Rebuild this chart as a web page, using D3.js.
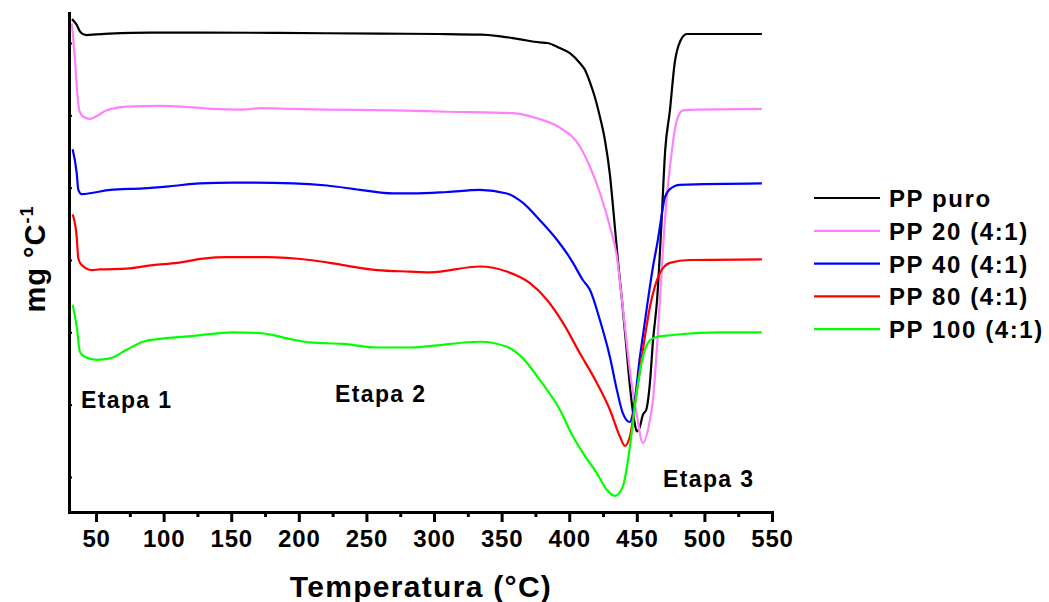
<!DOCTYPE html>
<html>
<head>
<meta charset="utf-8">
<script src="https://cdn.jsdelivr.net/npm/d3@7/dist/d3.min.js"></script>
<style>
  html, body { margin: 0; padding: 0; background: #fff; }
  svg { display: block; font-family: "Liberation Sans", Arial, Helvetica, sans-serif; font-weight: bold; }
</style>
</head>
<body>
<svg id="chart" width="1049" height="602"></svg>
<script>
// DTG curves: [temperature (°C), signal (stacked, arbitrary offset units)]
const ppPuro = [[32.2,6.33],[35.7,6.25],[38.1,6.16],[40.6,6.12],[43.1,6.11],[50,6.12],[60,6.13],[90,6.145],[130,6.145],[180,6.14],[220,6.135],[260,6.13],[303,6.125],[335,6.115],[346,6.10],[364,6.05],[378,6.01],[384,6.0],[393,5.93],[400.5,5.86],[408,5.72],[411.6,5.63],[415.3,5.46],[419,5.25],[422.7,4.98],[426.4,4.66],[430.1,4.18],[432.3,3.76],[436,3.00],[439,2.45],[442,1.85],[445,1.24],[448,0.79],[450,0.63],[452,0.68],[454.5,0.86],[457,0.93],[459.7,1.30],[462,1.89],[465,2.45],[468,3.42],[471,4.52],[474.5,5.07],[478,5.72],[482,6.02],[487,6.125],[520,6.125],[542.5,6.125]];
const pp20 = [[32.2,6.27],[34.4,5.77],[36.1,5.31],[37.6,5.07],[40.6,4.98],[45.5,4.95],[50.5,4.99],[57.9,5.07],[72.7,5.12],[97.3,5.13],[121.7,5.11],[136.5,5.09],[158.7,5.08],[171.3,5.10],[195.7,5.09],[220.8,5.08],[269.6,5.07],[309.6,5.05],[358.4,5.03],[376.1,4.96],[393.1,4.83],[407.9,4.57],[415.3,4.29],[422.7,3.93],[430.1,3.46],[435.3,3.04],[439,2.45],[446.1,1.30],[449.8,0.88],[454.5,0.47],[459.7,0.79],[461.9,1.06],[465.6,1.99],[467.1,2.45],[470.8,3.55],[476,4.52],[479.7,4.94],[484.1,5.07],[494.5,5.08],[542.5,5.09]];
const pp40 = [[32.7,4.53],[35.7,4.20],[36.9,3.97],[39.4,3.91],[47.8,3.93],[60.3,3.97],[84.7,3.99],[104.7,4.02],[126.9,4.06],[151.3,4.07],[195.7,4.06],[220.8,4.03],[245.2,3.97],[269.6,3.92],[284.4,3.92],[309.6,3.94],[334,3.97],[353.9,3.92],[365.8,3.79],[378.3,3.55],[390.9,3.28],[400.5,3.03],[402.8,2.96],[410.2,2.72],[415.3,2.59],[422.7,2.17],[430.1,1.66],[435.3,1.20],[439.7,0.88],[444.9,0.76],[447.1,0.88],[452.3,1.66],[457.5,2.35],[461.9,2.90],[465.6,3.28],[467.8,3.55],[470.8,3.87],[474.5,3.98],[481.9,4.04],[542.5,4.06]];
const pp80 = [[32.7,3.63],[35.7,3.32],[36.9,3.02],[39.4,2.93],[46.8,2.86],[52.9,2.87],[72.7,2.88],[92.1,2.93],[109.9,2.96],[129.1,3.02],[146.9,3.04],[176.4,3.04],[208.2,3.00],[232.6,2.93],[257.8,2.86],[282.2,2.84],[297,2.83],[334,2.91],[353.9,2.84],[371,2.68],[383.5,2.45],[395.4,2.13],[407.9,1.71],[420.5,1.30],[430.1,0.93],[437.5,0.56],[441.2,0.43],[444.9,0.56],[450.1,1.20],[454.5,1.76],[459.7,2.35],[467.1,2.82],[474.5,2.96],[489.3,3.00],[542.5,3.01]];
const pp100 = [[32.7,2.38],[35.7,2.08],[38.1,1.73],[41.8,1.66],[50.5,1.62],[60.3,1.64],[72.7,1.76],[84.7,1.87],[97.3,1.91],[121.7,1.95],[151.3,2.00],[171.3,1.99],[195.7,1.90],[208.2,1.86],[232.6,1.84],[257.8,1.79],[282.2,1.79],[297,1.81],[334,1.87],[353.9,1.80],[365.8,1.64],[378.3,1.34],[393.1,0.93],[402.8,0.56],[410.2,0.33],[420.5,0.05],[427.9,-0.18],[433.8,-0.26],[439.7,-0.13],[444.9,0.42],[450.1,1.20],[454.5,1.66],[459.7,1.89],[465.6,1.94],[474.5,1.96],[511.5,2.00],[542.5,2.00]];

const seriesNames = ["PP puro", "PP 20 (4:1)", "PP 40 (4:1)", "PP 80 (4:1)", "PP 100 (4:1)"];
const seriesData = [ppPuro, pp20, pp40, pp80, pp100];
const seriesColors = ["#000000", "#ff80ff", "#0000ff", "#ff0000", "#00ff00"];

const xMajorTicks = [50, 100, 150, 200, 250, 300, 350, 400, 450, 500, 550];
const xMinorTicks = [75, 125, 175, 225, 275, 325, 375, 425, 475, 525];
const yTicks = [0, 1, 2, 3, 4, 5, 6];

const stageLabels = [
  { text: "Etapa 1", t: 38.8, v: 0.95 },
  { text: "Etapa 2", t: 226.7, v: 1.04 },
  { text: "Etapa 3", t: 469.3, v: -0.14 }
];

const svg = d3.select("#chart");

const x = d3.scaleLinear().domain([30, 550]).range([69, 772]);
const y = d3.scaleLinear().domain([-0.484, 6.415]).range([512, 13]);

// curves
const line = d3.line()
  .x(d => x(d[0]))
  .y(d => y(d[1]))
  .curve(d3.curveMonotoneX);

svg.append("g").selectAll("path")
  .data(seriesData)
  .join("path")
  .attr("d", line)
  .attr("fill", "none")
  .attr("stroke", (d, i) => seriesColors[i])
  .attr("stroke-width", 2.2)
  .attr("stroke-linejoin", "round");

// x axis: major ticks with labels, minor ticks without
const xAxis = svg.append("g").attr("transform", `translate(0,${y.range()[0]})`);
xAxis.call(d3.axisBottom(x).tickValues(xMajorTicks).tickSize(10).tickSizeOuter(0).tickPadding(8));
xAxis.select(".domain").attr("stroke-width", 3).attr("stroke-linecap", "square");
xAxis.selectAll(".tick line").attr("stroke-width", 3);
xAxis.selectAll(".tick text")
  .attr("font-size", 24).attr("font-weight", "bold")
  .attr("font-family", "'Liberation Sans', Arial, sans-serif")
  .attr("letter-spacing", "0.8px")
  .attr("fill", "#000");

const xMinor = svg.append("g").attr("transform", `translate(0,${y.range()[0]})`);
xMinor.call(d3.axisBottom(x).tickValues(xMinorTicks).tickSize(5).tickSizeOuter(0).tickFormat(""));
xMinor.select(".domain").remove();
xMinor.selectAll(".tick line").attr("stroke-width", 3);

// y axis: unlabeled inward ticks
const yAxis = svg.append("g").attr("transform", `translate(${x.range()[0]},0)`);
yAxis.call(d3.axisLeft(y).tickValues(yTicks).tickSize(-3).tickSizeOuter(0).tickFormat(""));
yAxis.select(".domain").attr("stroke-width", 3).attr("stroke-linecap", "square");
yAxis.selectAll(".tick line").attr("stroke-width", 2);

// axis titles
svg.append("text")
  .attr("x", 421).attr("y", 597)
  .attr("text-anchor", "middle")
  .attr("font-size", 30)
  .attr("letter-spacing", "1.3px")
  .text("Temperatura (°C)");

const yTitle = svg.append("text")
  .attr("transform", "translate(45,259) rotate(-90)")
  .attr("text-anchor", "middle")
  .attr("font-size", 29)
  .attr("letter-spacing", "1px");
yTitle.append("tspan").text("mg  °C");
yTitle.append("tspan").attr("font-size", 18).attr("dy", -12).text("-1");

// stage annotations
svg.append("g").selectAll("text")
  .data(stageLabels)
  .join("text")
  .attr("x", d => x(d.t))
  .attr("y", d => y(d.v))
  .attr("font-size", 23)
  .attr("letter-spacing", "1.4px")
  .text(d => d.text);

// legend
const legend = svg.append("g").attr("transform", "translate(814,198)");
const rows = legend.selectAll("g")
  .data(seriesNames)
  .join("g")
  .attr("transform", (d, i) => `translate(0,${i * 32.8})`);
rows.append("line")
  .attr("x1", 0).attr("x2", 66)
  .attr("stroke", (d, i) => seriesColors[i])
  .attr("stroke-width", 2.2);
rows.append("text")
  .attr("x", 75).attr("y", 9)
  .attr("font-size", 24)
  .attr("letter-spacing", "1.6px")
  .text(d => d);
</script>
</body>
</html>
